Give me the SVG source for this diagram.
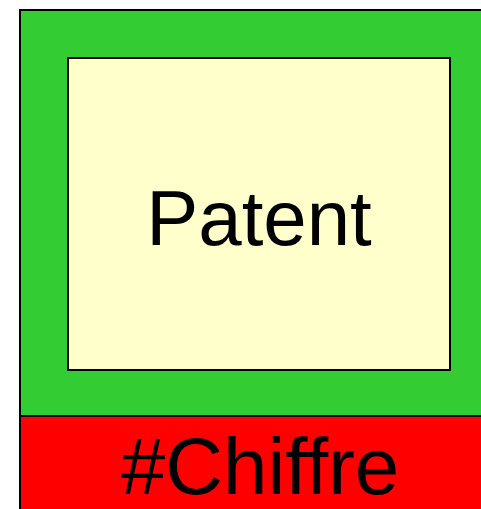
<svg xmlns="http://www.w3.org/2000/svg" width="481" height="509" viewBox="0 0 481 509">
<style>
.t{font-family:"Liberation Sans",Arial,sans-serif;font-size:77px;fill:#000;text-anchor:middle}
.b{stroke:#000;stroke-width:2}
</style>
<g id="outer">
<rect class="b" x="20" y="10" width="470" height="408" fill="#33cc33"/>
</g>
<g id="chiffre">
<rect class="b" x="20" y="416" width="470" height="100" fill="#ff0000"/>
<text class="t" x="260" y="494" style="font-size:80px">#Chiffre</text>
</g>
<g id="patent">
<rect class="b" x="68" y="58" width="382" height="312" fill="#ffffcc"/>
<text class="t" x="259" y="245" style="font-size:78px">Patent</text>
</g>
<g id="connectors"></g>
</svg>
